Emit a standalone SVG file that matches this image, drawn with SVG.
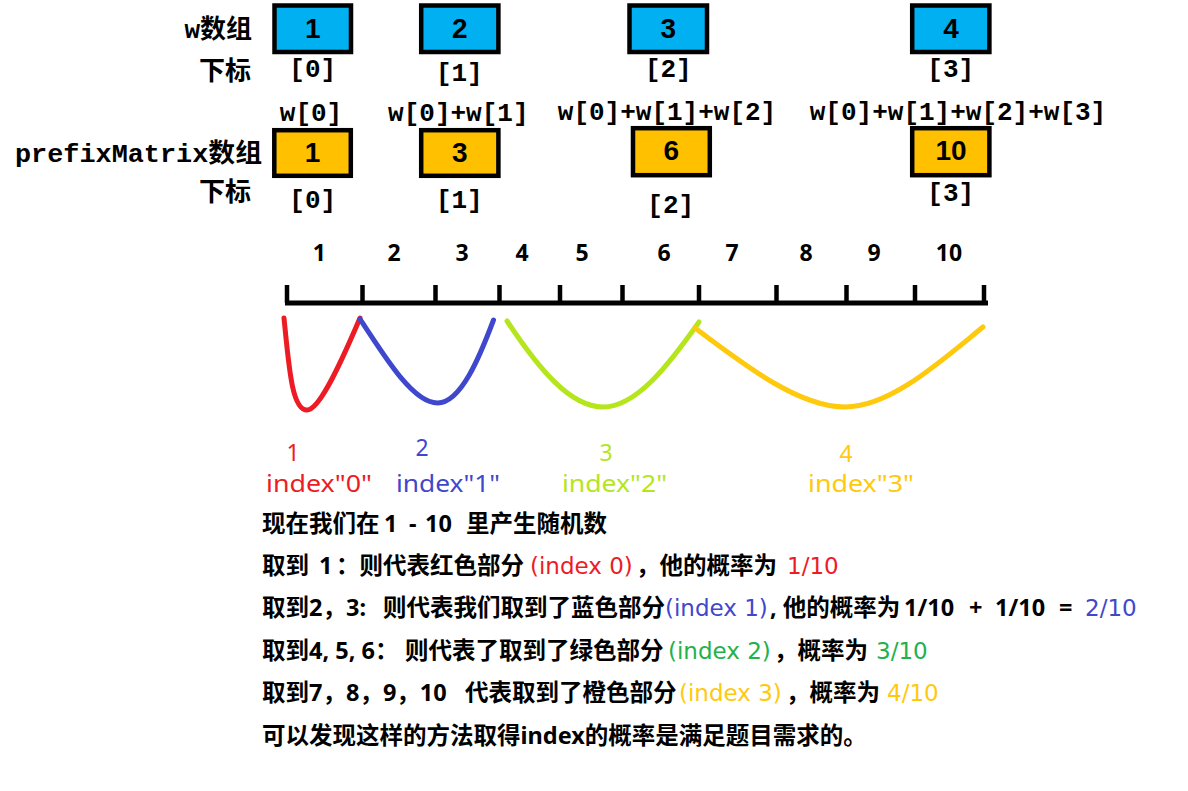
<svg xmlns="http://www.w3.org/2000/svg" width="1188" height="791" viewBox="0 0 1188 791">
<style>
.bg{fill:#ffffff}
.boxB{fill:#00b0f0;stroke:#000;stroke-width:4.5}
.boxO{fill:#ffc000;stroke:#000;stroke-width:4.5}
.num{font-family:"Liberation Sans","Noto Sans",sans-serif;font-weight:bold;font-size:28px;fill:#000;text-anchor:middle}
.mono{font-family:"Liberation Mono","Noto Sans CJK SC",monospace;font-weight:bold;font-size:26px;fill:#000;text-anchor:middle}
.lbl{font-family:"Liberation Mono","Noto Sans CJK SC",monospace;font-weight:bold;font-size:26px;fill:#000;text-anchor:end}
.axisn{font-family:"Noto Sans","Noto Sans CJK SC",sans-serif;font-weight:bold;font-size:23px;fill:#000;text-anchor:middle}
.axis{stroke:#000;stroke-width:5;fill:none}
.tick{stroke:#000;stroke-width:4.5}
.curve{fill:none;stroke-width:5;stroke-linecap:round}
.cl{font-family:"Noto Sans","Noto Sans CJK SC",sans-serif;font-size:23px}
.t{font-family:"Noto Sans","Noto Sans CJK SC",sans-serif;font-size:23.5px;font-weight:bold;fill:#000}
.n{font-family:"DejaVu Sans","Noto Sans CJK SC",sans-serif;font-weight:normal;font-size:23px}
.red{fill:#ed1c24}
.blue{fill:#3f48cc}
.lime{fill:#b5e61d}
.green{fill:#22b14c}
.orange{fill:#ffc90e}
</style>
<rect class="bg" x="0" y="0" width="1188" height="791"/>

<g id="labels-left">
<text class="lbl" x="252" y="38">w数组</text>
<text class="lbl" x="251" y="80">下标</text>
<text class="lbl" x="262" y="162" textLength="247" lengthAdjust="spacingAndGlyphs">prefixMatrix数组</text>
<text class="lbl" x="251" y="201">下标</text>
</g>

<g id="w0"><rect class="boxB" x="274.5" y="5.5" width="76.5" height="46.5"/><text class="num" x="312.8" y="38">1</text><text class="mono" x="312.7" y="77">[0]</text></g>
<g id="w1"><rect class="boxB" x="421.2" y="5.5" width="77.2" height="46.5"/><text class="num" x="459.8" y="38">2</text><text class="mono" x="459.3" y="81">[1]</text></g>
<g id="w2"><rect class="boxB" x="629.5" y="5.5" width="77.5" height="46.5"/><text class="num" x="668.3" y="38">3</text><text class="mono" x="668.3" y="77">[2]</text></g>
<g id="w3"><rect class="boxB" x="912.2" y="5.5" width="77.2" height="46.5"/><text class="num" x="951" y="38">4</text><text class="mono" x="950.7" y="77">[3]</text></g>

<g id="sums">
<text class="mono" x="311" y="121">w[0]</text>
<text class="mono" x="458.3" y="121">w[0]+w[1]</text>
<text class="mono" x="667" y="120">w[0]+w[1]+w[2]</text>
<text class="mono" x="958" y="120">w[0]+w[1]+w[2]+w[3]</text>
</g>

<g id="p0"><rect class="boxO" x="274.3" y="130.2" width="76.5" height="45.6"/><text class="num" x="312.5" y="162">1</text><text class="mono" x="312.7" y="208">[0]</text></g>
<g id="p1"><rect class="boxO" x="421.2" y="130.2" width="77.2" height="45.6"/><text class="num" x="459.8" y="162">3</text><text class="mono" x="459.3" y="208">[1]</text></g>
<g id="p2"><rect class="boxO" x="633" y="128.2" width="76.8" height="47"/><text class="num" x="671.4" y="160">6</text><text class="mono" x="670.7" y="213">[2]</text></g>
<g id="p3"><rect class="boxO" x="912.2" y="128.2" width="77.2" height="47"/><text class="num" x="951" y="160">10</text><text class="mono" x="950.7" y="201">[3]</text></g>

<g id="axis-numbers">
<text class="axisn" x="319.3" y="261">1</text>
<text class="axisn" x="394" y="261">2</text>
<text class="axisn" x="462" y="261">3</text>
<text class="axisn" x="522" y="261">4</text>
<text class="axisn" x="582" y="261">5</text>
<text class="axisn" x="664" y="261">6</text>
<text class="axisn" x="732" y="261">7</text>
<text class="axisn" x="806" y="261">8</text>
<text class="axisn" x="874" y="261">9</text>
<text class="axisn" x="949" y="261">10</text>
</g>

<g id="axis">
<line class="axis" x1="285" y1="303" x2="988" y2="303"/>
<line class="tick" x1="287" y1="285" x2="287" y2="303"/>
<line class="tick" x1="362.5" y1="285" x2="362.5" y2="303"/>
<line class="tick" x1="435.5" y1="285" x2="435.5" y2="303"/>
<line class="tick" x1="499.5" y1="285" x2="499.5" y2="303"/>
<line class="tick" x1="560" y1="285" x2="560" y2="303"/>
<line class="tick" x1="622.5" y1="285" x2="622.5" y2="303"/>
<line class="tick" x1="699" y1="285" x2="699" y2="303"/>
<line class="tick" x1="776.5" y1="285" x2="776.5" y2="303"/>
<line class="tick" x1="846.5" y1="285" x2="846.5" y2="303"/>
<line class="tick" x1="915" y1="285" x2="915" y2="303"/>
<line class="tick" x1="984" y1="285" x2="984" y2="303"/>
</g>

<g id="connectors">
<path class="curve" stroke="#ed1c24" d="M284,318 C289,368 292,410 307,410 C320,410 343,358 360,318"/>
<path class="curve" stroke="#3f48cc" d="M360,319 C388,362 414,403 437.5,403 C461,403 480,356 493.5,320"/>
<path class="curve" stroke="#b5e61d" d="M507,321 C538,368 570,407 603,407 C636,407 668,366 699,322"/>
<path class="curve" stroke="#ffc90e" d="M695,328 C748,368 800,407 845,407 C890,407 940,362 983,327"/>
</g>

<g id="curve-labels">
<text class="cl red" x="293" y="461" text-anchor="middle">1</text>
<text class="cl red" x="266" y="492" textLength="106" lengthAdjust="spacingAndGlyphs">index"0"</text>
<text class="cl blue" x="422" y="456" text-anchor="middle">2</text>
<text class="cl blue" x="396" y="492" textLength="104" lengthAdjust="spacingAndGlyphs">index"1"</text>
<text class="cl lime" x="606" y="461" text-anchor="middle">3</text>
<text class="cl lime" x="562" y="492" textLength="105" lengthAdjust="spacingAndGlyphs">index"2"</text>
<text class="cl orange" x="846" y="462" text-anchor="middle">4</text>
<text class="cl orange" x="808" y="492" textLength="106" lengthAdjust="spacingAndGlyphs">index"3"</text>
</g>

<g id="explanation">
<text class="t" y="532"><tspan x="262">现在我们在</tspan><tspan x="384">1</tspan><tspan x="409">-</tspan><tspan x="425">10</tspan><tspan x="466">里产生随机数</tspan></text>
<text class="t" y="574"><tspan x="262">取到</tspan><tspan x="319">1</tspan><tspan x="336">：则代表红色部分</tspan><tspan x="530" class="n red">(index 0)</tspan><tspan x="636">，他的概率为</tspan><tspan x="787" class="n red">1/10</tspan></text>
<text class="t" y="616"><tspan x="262">取到2，3:</tspan><tspan x="383">则代表我们取到了蓝色部分</tspan><tspan x="665" class="n blue">(index 1)</tspan><tspan x="770">, 他的概率为</tspan><tspan x="904">1/10</tspan><tspan x="969">+</tspan><tspan x="995">1/10</tspan><tspan x="1059">=</tspan><tspan x="1085" class="n blue">2/10</tspan></text>
<text class="t" y="659"><tspan x="262">取到4, 5, 6：</tspan><tspan x="405">则代表了取到了绿色部分</tspan><tspan x="668" class="n green">(index 2)</tspan><tspan x="774">，概率为</tspan><tspan x="876" class="n green">3/10</tspan></text>
<text class="t" y="701"><tspan x="262">取到7，8，9，10</tspan><tspan x="465">代表取到了橙色部分</tspan><tspan x="679" class="n orange">(index 3)</tspan><tspan x="786">，概率为</tspan><tspan x="887" class="n orange">4/10</tspan></text>
<text class="t" y="744" x="262">可以发现这样的方法取得index的概率是满足题目需求的。</text>
</g>
</svg>
